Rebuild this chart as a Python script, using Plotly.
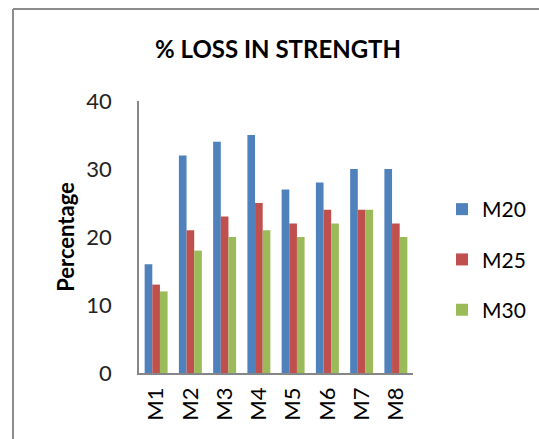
import plotly.graph_objects as go

categories = ["M1", "M2", "M3", "M4", "M5", "M6", "M7", "M8"]
m20 = [16, 32, 34, 35, 27, 28, 30, 30]
m25 = [13, 21, 23, 25, 22, 24, 24, 22]
m30 = [12, 18, 20, 21, 20, 22, 24, 20]

series = [("M20", m20, "#4F81BD"), ("M25", m25, "#C0504D"), ("M30", m30, "#9BBB59")]

FONT = "Lato"

fig = go.Figure()
for name, vals, color in series:
    fig.add_trace(go.Bar(x=categories, y=vals, name=name, marker_color=color,
                         marker_line_width=0, legendgroup=name))

W, H = 539, 439
L, R, T, B = 139, 126, 101, 66
pw, ph = W - L - R, H - T - B

def px_x(px):
    return (px - L) / pw

def px_y(py):
    return (H - B - py) / ph

fig.update_layout(
    width=W, height=H,
    margin=dict(l=L, r=R, t=T, b=B, autoexpand=False),
    paper_bgcolor="white", plot_bgcolor="white",
    barmode="group", bargap=0.33, bargroupgap=0,
    font=dict(family=FONT, color="#000000"),
    title=dict(text="<b>% LOSS IN STRENGTH</b>", x=278 / W,
               xanchor="center", y=1 - 50 / H, yanchor="middle",
               font=dict(size=24, family=FONT, color="#000000")),
    legend=dict(x=px_x(442), xanchor="left", y=px_y(189), yanchor="top",
                font=dict(size=21, family=FONT, color="#000000"),
                tracegroupgap=20, bgcolor="rgba(0,0,0,0)"),
    showlegend=True,
)
fig.update_xaxes(showgrid=False, showline=True, linecolor="#868686", linewidth=1.5,
                 tickangle=-90, ticks="", ticklabelstandoff=4,
                 tickfont=dict(size=22, family=FONT, color="#000000"))
fig.update_yaxes(range=[0, 40], dtick=10, showgrid=False, showline=True,
                 linecolor="#868686", linewidth=1.5, zeroline=False, ticks="",
                 ticklabelstandoff=21,
                 tickfont=dict(size=22, family=FONT, color="#222222"),
                 title=dict(text="<b>Percentage</b>", standoff=6,
                            font=dict(size=22, family=FONT, color="#000000")))

# Outer frame around the chart area
fig.add_shape(type="line", xref="paper", yref="paper",
              x0=px_x(13), x1=px_x(13), y0=px_y(460), y1=px_y(9),
              line=dict(color="#8C8C8C", width=2))
fig.add_shape(type="line", xref="paper", yref="paper",
              x0=px_x(13), x1=px_x(560), y0=px_y(9), y1=px_y(9),
              line=dict(color="#8C8C8C", width=2))

fig.write_html("out.html")
